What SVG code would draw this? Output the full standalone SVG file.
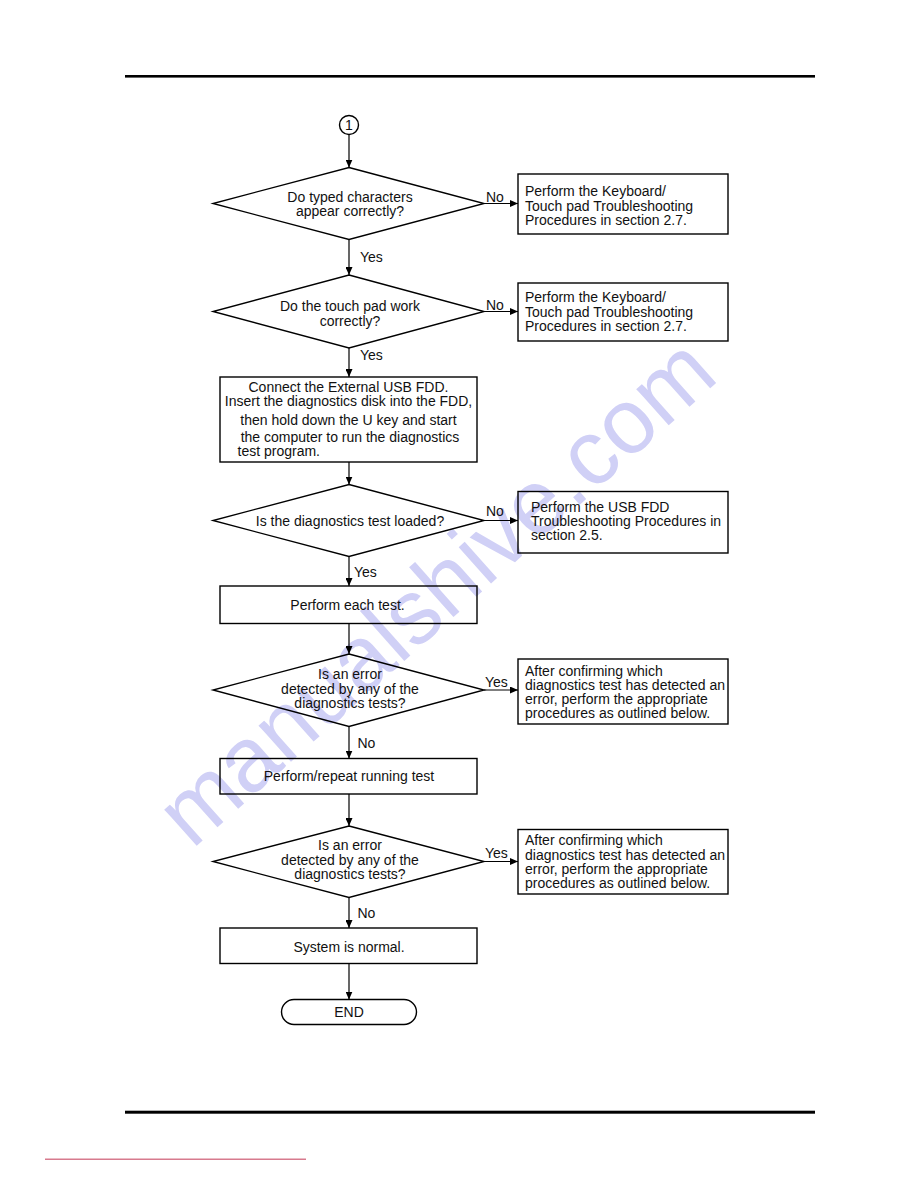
<svg xmlns="http://www.w3.org/2000/svg" width="918" height="1188" viewBox="0 0 918 1188">
<defs>
<marker id="ah" markerUnits="userSpaceOnUse" markerWidth="8" markerHeight="7" refX="8" refY="3.5" orient="auto">
<path d="M0,0 L8,3.5 L0,7 z" fill="#000"/>
</marker>
<style>
text{font-family:"Liberation Sans",Arial,sans-serif;font-size:14px;fill:#111}
.c{text-anchor:middle}
.shape{fill:none;stroke:#000;stroke-width:1.4}
.conn line{stroke:#000;stroke-width:1.2;marker-end:url(#ah)}
.wm{font-size:92px;fill:#d0d0f6}
</style>
</defs>
<rect width="918" height="1188" fill="#fff"/>
<text class="wm" transform="translate(192,850) rotate(-41.7)" textLength="708" lengthAdjust="spacingAndGlyphs">manualshive.com</text>
<rect x="125" y="75" width="690" height="2.6" fill="#000"/>
<rect x="125" y="1110.7" width="690" height="3" fill="#000"/>
<rect x="45" y="1158.5" width="261" height="1.5" fill="#d77a8e"/>

<g id="start"><circle class="shape" cx="349" cy="125" r="9.5"/><text class="c" x="349" y="130">1</text></g>

<g id="d1"><polygon class="shape" points="349,167.5 484,203.5 349,239.5 213,203.5"/>
<text class="c" x="350" y="202">Do typed characters</text><text class="c" x="350" y="216">appear correctly?</text></g>
<g id="b1"><rect class="shape" x="518" y="174" width="210" height="60"/>
<text x="525" y="196">Perform the Keyboard/</text><text x="525" y="210.5">Touch pad Troubleshooting</text><text x="525" y="225">Procedures in section 2.7.</text></g>

<g id="d2"><polygon class="shape" points="349,275 484,311.5 349,348 213,311.5"/>
<text class="c" x="350" y="311">Do the touch pad work</text><text class="c" x="350" y="325.5">correctly?</text></g>
<g id="b2"><rect class="shape" x="518" y="283" width="210" height="58"/>
<text x="525" y="302">Perform the Keyboard/</text><text x="525" y="316.5">Touch pad Troubleshooting</text><text x="525" y="330.5">Procedures in section 2.7.</text></g>

<g id="b3"><rect class="shape" x="220" y="377" width="257" height="85"/>
<text class="c" x="348.5" y="392">Connect the External USB FDD.</text>
<text class="c" x="348.5" y="406">Insert the diagnostics disk into the FDD,</text>
<text class="c" x="348.5" y="425">then hold down the U key and start</text>
<text class="c" x="350" y="441.5">the computer to run the diagnostics</text>
<text x="237.5" y="456">test program.</text></g>

<g id="d3"><polygon class="shape" points="349,484.5 484,520.5 349,556.5 213,520.5"/>
<text class="c" x="350" y="525.5">Is the diagnostics test loaded?</text></g>
<g id="b4"><rect class="shape" x="518" y="491.5" width="210" height="61.5"/>
<text x="531" y="512">Perform the USB FDD</text><text x="531" y="526">Troubleshooting Procedures in</text><text x="531" y="540">section 2.5.</text></g>

<g id="b5"><rect class="shape" x="220" y="586" width="257" height="37.5"/>
<text class="c" x="347.5" y="610">Perform each test.</text></g>

<g id="d4"><polygon class="shape" points="349,654 484,690 349,726.5 213,690"/>
<text class="c" x="350" y="679">Is an error</text><text class="c" x="350" y="693.5">detected by any of the</text><text class="c" x="350" y="707.5">diagnostics tests?</text></g>
<g id="b6"><rect class="shape" x="518" y="659" width="210" height="65"/>
<text x="525" y="676">After confirming which</text><text x="525" y="690">diagnostics test has detected an</text><text x="525" y="704">error, perform the appropriate</text><text x="525" y="718">procedures as outlined below.</text></g>

<g id="b7"><rect class="shape" x="220" y="758.5" width="257" height="35.5"/>
<text class="c" x="349" y="780.5">Perform/repeat running test</text></g>

<g id="d5"><polygon class="shape" points="349,826 484,861.5 349,897.5 213,861.5"/>
<text class="c" x="350" y="850">Is an error</text><text class="c" x="350" y="864.5">detected by any of the</text><text class="c" x="350" y="878.5">diagnostics tests?</text></g>
<g id="b8"><rect class="shape" x="518" y="829.5" width="210" height="64.5"/>
<text x="525" y="845">After confirming which</text><text x="525" y="859.5">diagnostics test has detected an</text><text x="525" y="873.5">error, perform the appropriate</text><text x="525" y="887.5">procedures as outlined below.</text></g>

<g id="b9"><rect class="shape" x="220" y="928" width="257" height="35.5"/>
<text class="c" x="349" y="951.5">System is normal.</text></g>

<g id="end"><rect class="shape" x="281.5" y="999.5" width="135" height="25" rx="12.5"/>
<text class="c" x="349" y="1017">END</text></g>

<g id="connectors" class="conn">
<line x1="349" y1="134.5" x2="349" y2="167.5"/>
<line x1="484" y1="203.5" x2="518" y2="203.5"/>
<line x1="349" y1="239.5" x2="349" y2="275"/>
<line x1="484" y1="311.5" x2="518" y2="311.5"/>
<line x1="349" y1="348" x2="349" y2="377"/>
<line x1="349" y1="462" x2="349" y2="484.5"/>
<line x1="484" y1="520.5" x2="518" y2="520.5"/>
<line x1="349" y1="556.5" x2="349" y2="586"/>
<line x1="349" y1="623.5" x2="349" y2="654"/>
<line x1="484" y1="690" x2="518" y2="690"/>
<line x1="349" y1="726.5" x2="349" y2="758.5"/>
<line x1="349" y1="794" x2="349" y2="826"/>
<line x1="484" y1="861.5" x2="518" y2="861.5"/>
<line x1="349" y1="897.5" x2="349" y2="928"/>
<line x1="349" y1="963.5" x2="349" y2="999.5"/>
</g>
<g id="labels">
<text x="486" y="201.5">No</text>
<text x="360" y="261.5">Yes</text>
<text x="486" y="310">No</text>
<text x="360" y="360">Yes</text>
<text x="486" y="516">No</text>
<text x="354" y="577">Yes</text>
<text x="485" y="686.5">Yes</text>
<text x="357.5" y="748">No</text>
<text x="485" y="858">Yes</text>
<text x="357.5" y="918">No</text>
</g>
</svg>
